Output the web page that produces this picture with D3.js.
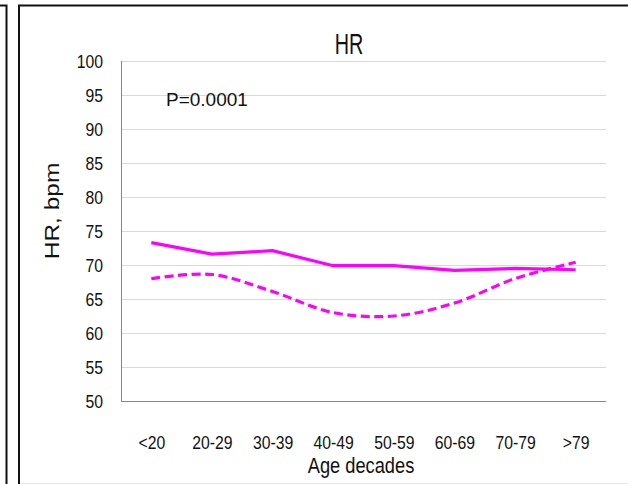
<!DOCTYPE html>
<html lang="en">
<head>
    <meta charset="UTF-8">
    <title>HR</title>
    <script type="text/javascript" src="https://cdn.jsdelivr.net/npm/d3@7/dist/d3.min.js"></script>
</head>
<body style="margin:0;background:#fff;">
<style>
    .tick text { font-family: "Liberation Sans", Arial, sans-serif; font-size: 19px; fill: #111; }
    .domain { stroke: #868686; }
</style>
<script>
    // age groups and heart rate (bpm)
    var ageGroups = ["<20", "20-29", "30-39", "40-49", "50-59", "60-69", "70-79", ">79"];
    var hrSolid  = [73.3, 71.6, 72.1, 69.9, 69.9, 69.2, 69.5, 69.3];
    var hrDashed = [68.0, 68.6, 66.1, 63.0, 62.5, 64.4, 68.0, 70.4];
    var yTicks = [50, 55, 60, 65, 70, 75, 80, 85, 90, 95, 100];

    var W = 628, H = 484;
    var margin = {top: 61, right: 22, bottom: 83, left: 121};
    var width = W - margin.left - margin.right,
        height = H - margin.top - margin.bottom;
    var squeeze = 0.83; // the picture's text is narrow

    var svg = d3.select("body").append("svg")
        .attr("width", W)
        .attr("height", H);

    // panel frames
    svg.append("path").attr("d", "M0,5.5H6.5V484").attr("fill", "none").attr("stroke", "#111").attr("stroke-width", 2);
    svg.append("path").attr("d", "M19,484V5.5H628").attr("fill", "none").attr("stroke", "#111").attr("stroke-width", 2);
    svg.append("line").attr("x1", 20).attr("x2", 628).attr("y1", 483.5).attr("y2", 483.5)
        .attr("stroke", "#e6e6e6").attr("stroke-width", 1);

    var g = svg.append("g")
        .attr("transform", "translate(" + margin.left + "," + margin.top + ")");

    var x = d3.scalePoint()
        .domain(ageGroups)
        .range([0, width])
        .padding(0.5);

    var y = d3.scaleLinear()
        .domain([50, 100])
        .range([height, 0]);

    // gridlines
    g.selectAll(".grid")
        .data(yTicks.slice(1))
        .enter().append("line")
        .attr("class", "grid")
        .attr("x1", 0).attr("x2", width)
        .attr("y1", function(d){ return Math.round(y(d)) + 0.5; })
        .attr("y2", function(d){ return Math.round(y(d)) + 0.5; })
        .attr("stroke", "#d9d9d9")
        .attr("stroke-width", 1);

    var yAxis = d3.axisLeft(y).tickValues(yTicks).tickSize(0).tickPadding(18);
    var yG = g.append("g").call(yAxis);
    yG.select(".domain").attr("d", "M0.5,0V" + height);
    yG.selectAll(".tick text")
        .attr("x", -18 / squeeze)
        .attr("transform", "scale(" + squeeze + ",1)");

    var xAxis = d3.axisBottom(x).tickSize(0).tickPadding(35);
    var xG = g.append("g")
        .attr("transform", "translate(0," + height + ")")
        .call(xAxis);
    xG.select(".domain").attr("d", "M0,0.5H" + width);
    xG.selectAll(".tick text")
        .attr("transform", "scale(" + squeeze + ",1)");

    var lineStraight = d3.line()
        .x(function(d, i){ return x(ageGroups[i]); })
        .y(function(d){ return y(d); });

    var lineSmooth = d3.line()
        .x(function(d, i){ return x(ageGroups[i]); })
        .y(function(d){ return y(d); })
        .curve(d3.curveCatmullRom.alpha(0.5));

    g.append("path")
        .datum(hrDashed)
        .attr("d", lineSmooth)
        .attr("fill", "none")
        .attr("stroke", "#ff00ff")
        .attr("stroke-width", 3.2)
        .attr("stroke-dasharray", "9,4.5");

    g.append("path")
        .datum(hrSolid)
        .attr("d", lineStraight)
        .attr("fill", "none")
        .attr("stroke", "#ff00ff")
        .attr("stroke-width", 3.2);

    // title
    svg.append("text")
        .attr("transform", "translate(349,54) scale(0.66,1)")
        .attr("text-anchor", "middle")
        .style("font-family", "'Liberation Sans', Arial, sans-serif")
        .style("font-size", "30px")
        .style("fill", "#111")
        .text("HR");

    svg.append("text")
        .attr("x", 166).attr("y", 106)
        .style("font-family", "'Liberation Sans', Arial, sans-serif")
        .style("font-size", "19px")
        .style("fill", "#111")
        .text("P=0.0001");

    svg.append("text")
        .attr("transform", "translate(59,211) rotate(-90) scale(1,0.86)")
        .attr("text-anchor", "middle")
        .style("font-family", "'Liberation Sans', Arial, sans-serif")
        .style("font-size", "24.5px")
        .style("fill", "#111")
        .text("HR, bpm");

    svg.append("text")
        .attr("transform", "translate(361,473) scale(" + squeeze + ",1)")
        .attr("text-anchor", "middle")
        .style("font-family", "'Liberation Sans', Arial, sans-serif")
        .style("font-size", "22px")
        .style("fill", "#111")
        .text("Age decades");
</script>
</body>
</html>
